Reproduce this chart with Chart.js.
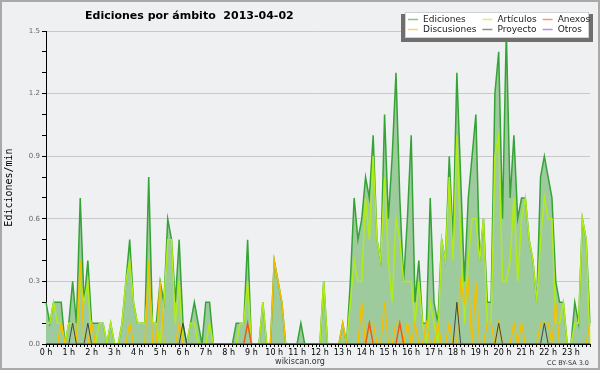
<!DOCTYPE html>
<html>
<head>
<meta charset="utf-8">
<script src="https://cdn.jsdelivr.net/npm/chart.js@4.4.1/dist/chart.umd.min.js"></script>
<style>
  html, body { margin: 0; padding: 0; background: #fff; }
  canvas { display: block; }
</style>
</head>
<body>
<canvas id="chart" width="600" height="370"></canvas>
<script>
// hour tick labels, one category every 10 minutes
const hourLabels = ['0 h', '1 h', '2 h', '3 h', '4 h', '5 h', '6 h', '7 h', '8 h', '9 h', '10 h', '11 h',
  '12 h', '13 h', '14 h', '15 h', '16 h', '17 h', '18 h', '19 h', '20 h', '21 h', '22 h', '23 h'];
const minuteSlots = ['00', '10', '20', '30', '40', '50'];
const slots = [];
hourLabels.forEach((h, i) => minuteSlots.forEach(m => slots.push(i + ':' + m)));

const yTicks = [0.0, 0.3, 0.6, 0.9, 1.2, 1.5];

// edits per minute, 10 minute bins (one row per hour)
const ediciones = [
  0.2, 0.1, 0.2, 0.2, 0.2, 0,
  0.1, 0.3, 0.1, 0.7, 0.2, 0.4,
  0.1, 0.1, 0.1, 0.1, 0, 0.1,
  0, 0, 0.1, 0.3, 0.5, 0.2,
  0.1, 0.1, 0.1, 0.8, 0.1, 0.1,
  0.3, 0.2, 0.6, 0.5, 0.2, 0.5,
  0.1, 0, 0.1, 0.2, 0.1, 0,
  0.2, 0.2, 0, 0, 0, 0,
  0, 0, 0.1, 0.1, 0.1, 0.5,
  0, 0, 0, 0.2, 0, 0,
  0.4, 0.3, 0.2, 0, 0, 0,
  0, 0.1, 0, 0, 0, 0,
  0, 0.3, 0, 0, 0, 0,
  0.1, 0, 0.3, 0.7, 0.5, 0.6,
  0.8, 0.7, 1.0, 0.5, 0.4, 1.1,
  0.6, 0.9, 1.3, 0.7, 0.3, 0.6,
  1.0, 0.2, 0.4, 0.1, 0.1, 0.7,
  0.2, 0.1, 0.5, 0.4, 0.9, 0.5,
  1.3, 0.8, 0.3, 0.7, 0.9, 1.1,
  0.4, 0.6, 0.2, 0.2, 1.2, 1.4,
  0.6, 1.5, 0.7, 1.0, 0.6, 0.7,
  0.7, 0.5, 0.4, 0.2, 0.8, 0.9,
  0.8, 0.7, 0.3, 0.2, 0.2, 0,
  0, 0.2, 0.1, 0.6, 0.5, 0.1
];
const articulos = [
  0.1, 0.1, 0.2, 0.1, 0.1, 0,
  0.1, 0.1, 0, 0.3, 0.2, 0.3,
  0, 0, 0.1, 0.1, 0, 0.1,
  0, 0, 0.1, 0.3, 0.4, 0.2,
  0.1, 0.1, 0.1, 0.3, 0.1, 0.1,
  0, 0.2, 0.5, 0.5, 0.1, 0.3,
  0, 0, 0.1, 0.1, 0, 0,
  0, 0.1, 0, 0, 0, 0,
  0, 0, 0, 0.1, 0.1, 0.3,
  0, 0, 0, 0.2, 0, 0,
  0, 0, 0, 0, 0, 0,
  0, 0, 0, 0, 0, 0,
  0, 0.3, 0, 0, 0, 0,
  0, 0, 0.2, 0.4, 0.3, 0.3,
  0.7, 0.5, 0.9, 0.5, 0.4, 0.8,
  0.4, 0.2, 0.6, 0.5, 0.3, 0.3,
  0.3, 0.1, 0.3, 0.1, 0, 0.2,
  0.1, 0, 0.5, 0.4, 0.8, 0.4,
  1.0, 0.5, 0.1, 0.4, 0.6, 0.6,
  0.4, 0.6, 0.1, 0.1, 0.9, 1.0,
  0.3, 0.3, 0.4, 0.7, 0.3, 0.6,
  0.7, 0.5, 0.4, 0.2, 0.5, 0.7,
  0.6, 0.6, 0.1, 0.1, 0.2, 0,
  0, 0.1, 0.1, 0.6, 0.5, 0
];
const discusiones = [
  0, 0, 0, 0, 0.1, 0,
  0, 0, 0, 0.4, 0, 0,
  0.1, 0, 0, 0, 0, 0,
  0, 0, 0, 0, 0.1, 0,
  0, 0, 0, 0.4, 0, 0,
  0.3, 0, 0, 0, 0, 0.1,
  0, 0, 0, 0, 0, 0,
  0, 0, 0, 0, 0, 0,
  0, 0, 0, 0, 0, 0,
  0, 0, 0, 0, 0, 0,
  0.4, 0.3, 0.2, 0, 0, 0,
  0, 0, 0, 0, 0, 0,
  0, 0, 0, 0, 0, 0,
  0.1, 0, 0, 0, 0, 0.2,
  0, 0.1, 0.1, 0, 0, 0.2,
  0, 0, 0.1, 0.1, 0, 0.1,
  0, 0.1, 0, 0, 0.1, 0,
  0, 0.1, 0, 0, 0.1, 0,
  0, 0.3, 0.2, 0.3, 0, 0.3,
  0, 0, 0.1, 0.1, 0, 0.1,
  0, 0, 0, 0.1, 0, 0.1,
  0, 0, 0, 0, 0.1, 0.1,
  0.1, 0, 0.2, 0, 0, 0,
  0, 0, 0, 0, 0, 0.1
];
const anexos = [
  0, 0, 0, 0, 0, 0,  0, 0, 0, 0, 0, 0,  0, 0, 0, 0, 0, 0,  0, 0, 0, 0, 0, 0,
  0, 0, 0, 0, 0, 0,  0, 0, 0, 0, 0, 0,  0, 0, 0, 0, 0, 0,  0, 0, 0, 0, 0, 0,
  0, 0, 0, 0, 0, 0.1,  0, 0, 0, 0, 0, 0,  0, 0, 0, 0, 0, 0,  0, 0, 0, 0, 0, 0,
  0, 0, 0, 0, 0, 0,  0, 0, 0, 0, 0, 0,  0, 0.1, 0, 0, 0, 0,  0, 0, 0, 0.1, 0, 0,
  0, 0, 0, 0, 0, 0,  0, 0, 0, 0, 0, 0,  0, 0, 0, 0, 0, 0,  0, 0, 0, 0, 0, 0,
  0, 0, 0, 0, 0, 0,  0, 0, 0, 0, 0, 0,  0, 0, 0, 0, 0, 0,  0, 0, 0, 0, 0, 0
];
const proyecto = [
  0, 0, 0, 0, 0, 0,  0, 0.1, 0, 0, 0, 0.1,  0, 0, 0, 0, 0, 0,  0, 0, 0, 0, 0, 0,
  0, 0, 0, 0, 0, 0,  0, 0, 0, 0, 0, 0,  0.1, 0, 0, 0, 0, 0,  0, 0, 0, 0, 0, 0,
  0, 0, 0, 0, 0, 0,  0, 0, 0, 0, 0, 0,  0, 0, 0, 0, 0, 0,  0, 0, 0, 0, 0, 0,
  0, 0, 0, 0, 0, 0,  0, 0, 0, 0, 0, 0,  0, 0, 0, 0, 0, 0,  0, 0, 0, 0, 0, 0,
  0, 0, 0, 0, 0, 0,  0, 0, 0, 0, 0, 0,  0.2, 0, 0, 0, 0, 0,  0, 0, 0, 0, 0, 0.1,
  0, 0, 0, 0, 0, 0,  0, 0, 0, 0, 0, 0.1,  0, 0, 0, 0, 0, 0,  0, 0, 0, 0, 0, 0
];
const otros = slots.map(() => 0);

Chart.defaults.font.family = '"DejaVu Sans", sans-serif';

// background, frame, title, footer and the boxed legend
const decor = {
  id: 'decor',
  beforeDraw(chart) {
    const { ctx, width, height } = chart;
    ctx.save();
    ctx.fillStyle = '#eef0f2';
    ctx.fillRect(0, 0, width, height);
    ctx.strokeStyle = '#a9a9a9';
    ctx.lineWidth = 2;
    ctx.strokeRect(1, 1, width - 2, height - 2);
    ctx.restore();
  },
  afterDraw(chart) {
    const { ctx, width } = chart;
    ctx.save();
    ctx.fillStyle = '#000';
    ctx.textBaseline = 'alphabetic';
    ctx.font = 'bold 11px "DejaVu Sans"';
    ctx.fillText('Ediciones por ámbito  2013-04-02', 85, 18.5);

    ctx.font = '8px "DejaVu Sans"';
    ctx.fillStyle = '#333';
    ctx.textAlign = 'center';
    ctx.fillText('wikiscan.org', 300, 364);
    ctx.font = '6.5px "DejaVu Sans"';
    ctx.textAlign = 'right';
    ctx.fillText('CC BY-SA 3.0', 589, 365);

    // legend box
    ctx.fillStyle = '#6f6f6f';
    ctx.fillRect(401, 14, 192, 28);
    ctx.fillStyle = '#fff';
    ctx.fillRect(405, 12, 184, 26);
    ctx.strokeStyle = '#d0d0d0';
    ctx.lineWidth = 1;
    ctx.strokeRect(405.5, 12.5, 183, 25);

    ctx.font = '9px "DejaVu Sans"';
    ctx.textAlign = 'left';
    ctx.textBaseline = 'middle';
    const ds = chart.data.datasets;
    const rowsY = [19.5, 29.5];
    let x = 408;
    for (let col = 0; col < 3; col++) {
      let maxW = 0;
      [col, col + 3].forEach((di, r) => {
        const d = ds[di];
        ctx.globalAlpha = 0.6;
        ctx.strokeStyle = d.borderColor;
        ctx.lineWidth = 1.5;
        ctx.beginPath();
        ctx.moveTo(x, rowsY[r]);
        ctx.lineTo(x + 10, rowsY[r]);
        ctx.stroke();
        ctx.globalAlpha = 1;
        ctx.fillStyle = '#222';
        ctx.fillText(d.label, x + 15, rowsY[r] + 0.5);
        maxW = Math.max(maxW, ctx.measureText(d.label).width);
      });
      x += 15 + maxW + 6;
    }
    ctx.restore();
  }
};

const line = (label, data, color, width, order) => ({
  label, data, borderColor: color, borderWidth: width, order,
  pointRadius: 0, tension: 0, fill: false
});

new Chart(document.getElementById('chart'), {
  type: 'line',
  data: {
    labels: slots,
    datasets: [
      Object.assign(line('Ediciones', ediciones, '#36a336', 1.5, 6), { fill: 'origin', backgroundColor: '#9ecb9e' }),
      line('Artículos', articulos, '#b2ec16', 1.5, 5),
      line('Anexos', anexos, '#ee5a16', 1.5, 3),
      line('Discusiones', discusiones, '#f2c000', 1.5, 4),
      line('Proyecto', proyecto, '#444444', 1, 2),
      line('Otros', otros, '#9040e0', 1, 1)
    ]
  },
  options: {
    responsive: false,
    animation: false,
    devicePixelRatio: 1,
    layout: { padding: { left: 0, right: 10, top: 31, bottom: 0 } },
    plugins: {
      legend: { display: false },
      title: { display: false },
      tooltip: { enabled: false }
    },
    scales: {
      x: {
        z: 1,
        offset: false,
        grid: { drawOnChartArea: false, tickColor: '#000', tickLength: 3 },
        border: { color: '#000', width: 1 },
        ticks: {
          autoSkip: false,
          maxRotation: 0,
          minRotation: 0,
          padding: 1,
          color: '#000',
          font: { size: 8 },
          callback: (v, i) => (i % 6 === 0 ? hourLabels[i / 6] : '')
        },
        afterFit: (s) => { s.height = 26; }
      },
      y: {
        min: yTicks[0],
        max: yTicks[yTicks.length - 1],
        grid: {
          color: (c) => (c.tick && yTicks.some(t => Math.abs(t - c.tick.value) < 1e-6) ? '#c9c9c9' : 'rgba(0,0,0,0)'),
          tickColor: '#000',
          tickLength: 4
        },
        border: { color: '#000', width: 1 },
        ticks: {
          stepSize: 0.1,
          padding: 2,
          color: '#666',
          font: { size: 7 },
          callback: (v) => (yTicks.some(t => Math.abs(t - v) < 1e-6) ? v.toFixed(1) : '')
        },
        title: {
          display: true,
          text: 'Ediciones/min',
          color: '#000',
          font: { family: '"DejaVu Sans Mono", monospace', size: 10 },
          padding: { top: 3, bottom: 0 }
        },
        afterFit: (s) => { s.width = 46; }
      }
    }
  },
  plugins: [decor]
});
</script>
</body>
</html>
